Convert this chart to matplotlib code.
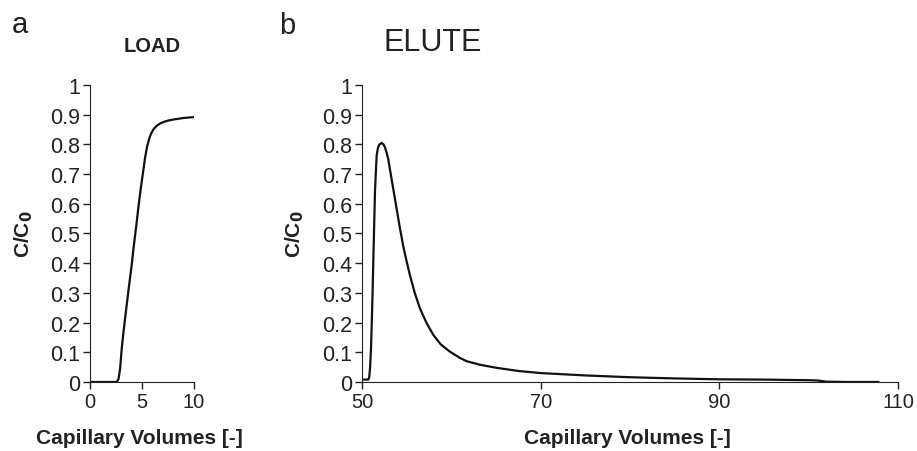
import numpy as np
import matplotlib.pyplot as plt

plt.rcParams['font.family'] = ['Liberation Sans', 'DejaVu Sans']

# LOAD curve
load_x = [0, 1, 2, 2.58, 2.75, 2.9, 3.05, 3.23, 3.5, 3.71, 4.0, 4.19, 4.45,
          4.68, 4.9, 5.06, 5.3, 5.48, 5.7, 5.9, 6.13, 6.4, 6.77, 7.2, 7.6,
          8.06, 9.0, 10]
load_y = [0, 0, 0, 0, 0.01, 0.045, 0.11, 0.17, 0.25, 0.31, 0.39, 0.45, 0.525,
          0.595, 0.655, 0.695, 0.755, 0.79, 0.82, 0.838, 0.852, 0.862, 0.871,
          0.877, 0.881, 0.884, 0.889, 0.892]

# ELUTE curve
elute_x = [50, 50.4, 50.7, 50.8, 50.9, 51.0, 51.08, 51.18, 51.27, 51.36, 51.45,
           51.55, 51.64, 51.78, 51.94, 52.2, 52.4, 52.57, 52.75, 52.94, 53.1,
           53.3, 53.58, 53.87, 54.2, 54.6, 54.96, 55.36, 55.9, 56.48, 57.2,
           57.97, 58.8, 59.8, 60.9, 61.7, 63.2, 65, 67.5, 70, 72.5, 75, 80, 85,
           90, 95, 100, 101, 102, 104, 107.8]
elute_y = [0.008, 0.008, 0.008, 0.015, 0.047, 0.11, 0.19, 0.3, 0.416, 0.53,
           0.64, 0.71, 0.763, 0.788, 0.8, 0.805, 0.8, 0.79, 0.772, 0.75, 0.72,
           0.685, 0.635, 0.584, 0.525, 0.46, 0.41, 0.36, 0.3, 0.248, 0.2,
           0.159, 0.127, 0.103, 0.082, 0.07, 0.058, 0.048, 0.037, 0.03, 0.026,
           0.022, 0.016, 0.012, 0.009, 0.008, 0.006, 0.005, 0.001, 0.0, 0.0]

fig = plt.figure(figsize=(9.17, 4.52), dpi=100)
ax1 = fig.add_axes([0.0981, 0.1527, 0.1134, 0.657])
ax2 = fig.add_axes([0.3948, 0.1527, 0.5845, 0.657])

ax1.plot(load_x, load_y, color='#111111', lw=1.6)
ax2.plot(elute_x, elute_y, color='#111111', lw=1.6)

for ax in (ax1, ax2):
    ax.spines['top'].set_visible(False)
    ax.spines['right'].set_visible(False)
    ax.spines['left'].set_color('#222222')
    ax.spines['bottom'].set_color('#222222')
    ax.set_ylim(0, 1)
    ax.set_yticks(np.arange(0, 1.01, 0.1))
    ax.set_yticklabels(['0', '0.1', '0.2', '0.3', '0.4', '0.5', '0.6', '0.7', '0.8', '0.9', '1'])
    ax.tick_params(labelsize=14.5, length=5, width=1, color='#222222',
                   labelcolor='#222222', pad=2)
    ax.tick_params(axis='y', labelsize=15.5)
    ax.set_ylabel('C/C$_\\mathbf{0}$', fontsize=15, fontweight='bold', color='#222222')
    ax.set_xlabel('Capillary Volumes [-]', fontsize=15, fontweight='bold', color='#222222')

ax1.set_xlim(0, 10)
ax1.set_xticks([0, 5, 10])
ax2.set_xlim(50, 110)
ax2.set_xticks([50, 70, 90, 110])

# label positions (axes coords)
ax1.yaxis.set_label_coords(-0.525, 0.5)
ax2.yaxis.set_label_coords(-0.105, 0.5)
ax1.xaxis.set_label_coords(0.48, -0.155)
ax2.xaxis.set_label_coords(0.495, -0.155)

fig.text(152 / 917, 1 - 46 / 452, 'LOAD', fontsize=14.5, fontweight='bold',
         ha='center', va='center', color='#222222')
fig.text(433 / 917, 1 - 43 / 452, 'ELUTE', fontsize=22,
         ha='center', va='center', color='#222222')

fig.text(12 / 917, 1 - 33 / 452, 'a', fontsize=21, color='#222222')
fig.text(279 / 917, 1 - 34 / 452, 'b', fontsize=21, color='#222222')

fig.savefig('out.png', dpi=100)
